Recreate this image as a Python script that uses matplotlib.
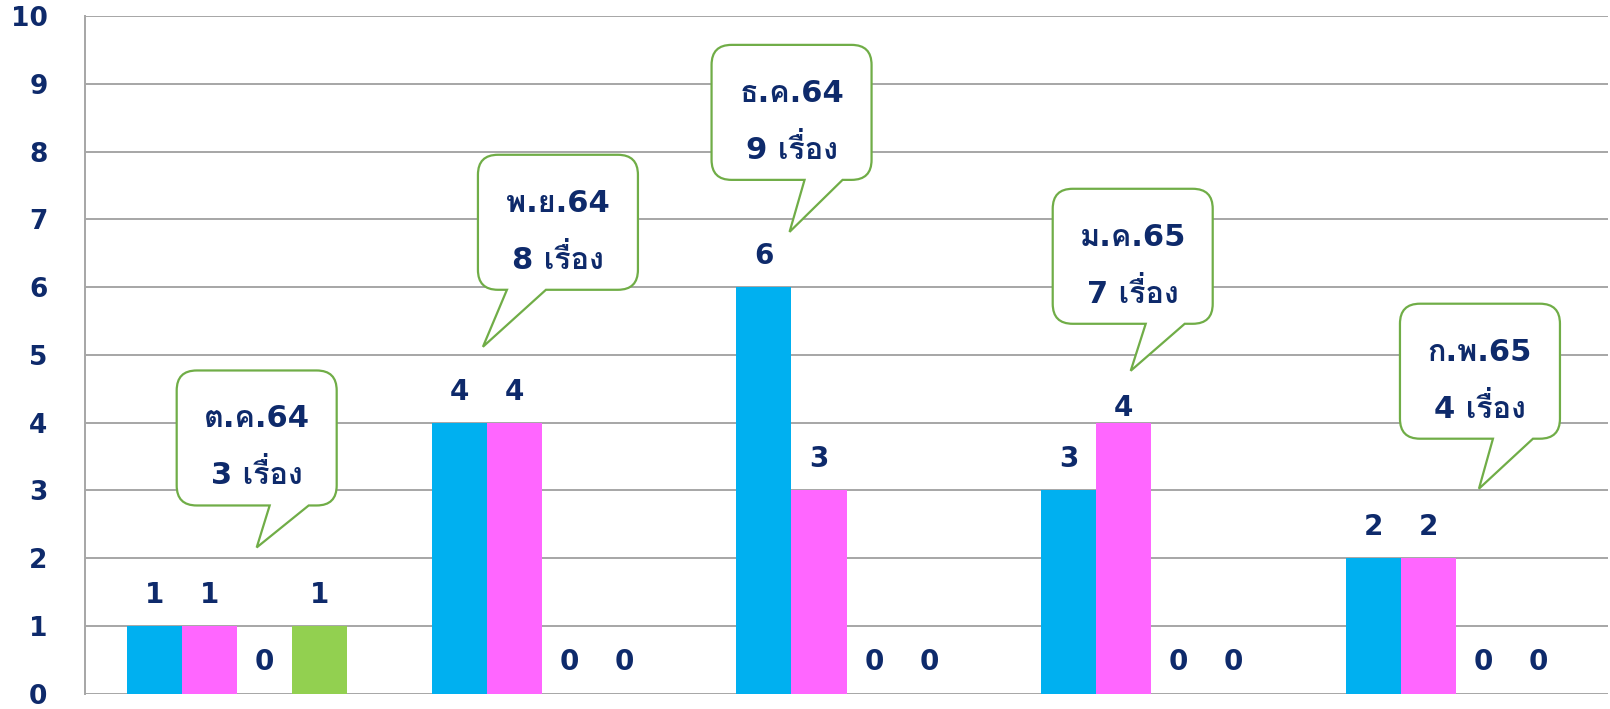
import matplotlib
matplotlib.use("Agg")
import matplotlib.pyplot as plt
import numpy as np
from matplotlib.path import Path
from matplotlib.patches import PathPatch
from matplotlib.transforms import Affine2D, ScaledTranslation

plt.rcParams['font.family'] = ['DejaVu Sans', 'Loma']
plt.rcParams['font.weight'] = 'bold'

months = ['ต.ค.64', 'พ.ย.64', 'ธ.ค.64', 'ม.ค.65', 'ก.พ.65']
s1 = [1, 4, 6, 3, 2]
s2 = [1, 4, 3, 4, 2]
s3 = [0, 0, 0, 0, 0]
s4 = [1, 0, 0, 0, 0]
series = [s1, s2, s3, s4]
totals = [sum(v) for v in zip(*series)]

colors = ['#00B0F0', '#FF66FF', '#FFC000', '#92D050']
navy = '#0E2A6B'
green = '#70AD47'

# callout box: top-left in data coords, tail base (px from left) and tip (px)
callouts = [(-0.199, 4.77, 93, 132, 80, 42),
            (0.790, 7.955, 29, 68, 5, 57),
            (1.557, 9.578, 93, 131, 78, 52),
            (2.677, 7.453, 93, 132, 78, 47),
            (3.817, 5.756, 93, 133, 79, 50)]
# label lifts in px above the bar top (baseline), special cases
lift = {(3, 1): 7}

DPI = 100
fig = plt.figure(figsize=(16.1, 7.09), dpi=DPI)
ax = fig.add_axes([85 / 1610, 15.5 / 709, 1523 / 1610, 677.2 / 709])

x = np.arange(len(months))
w = 0.1806
for k, vals in enumerate(series):
    pos = x + (k - 1.5) * w
    ax.bar(pos, vals, width=w, color=colors[k], zorder=2)
    for i, (p, v) in enumerate(zip(pos, vals)):
        up = lift.get((i, k), 23) * 72 / DPI
        ax.annotate(str(v), (p, v), xytext=(0, up), textcoords='offset points',
                    ha='center', va='baseline', fontsize=20, color=navy, zorder=4)

ax.set_xlim(-0.5, 4.5)
ax.set_ylim(0, 10)
ax.set_yticks(range(0, 11))
ax.set_xticks([])
ax.tick_params(axis='y', length=0, pad=27, labelsize=19, labelcolor=navy)
ax.grid(axis='y', color='#A6A6A6', linewidth=1.4, zorder=0)
for s in ['top', 'right', 'bottom']:
    ax.spines[s].set_visible(False)
ax.spines['left'].set_color('#A6A6A6')
ax.spines['left'].set_linewidth(1.4)


def callout_path(bw, bh, r, b0, b1, tx, ty):
    verts = [(r, 0), (bw - r, 0), (bw, 0), (bw, -r), (bw, -bh + r), (bw, -bh), (bw - r, -bh),
             (b1, -bh), (tx, -bh - ty), (b0, -bh), (r, -bh), (0, -bh), (0, -bh + r),
             (0, -r), (0, 0), (r, 0), (r, 0)]
    codes = [Path.MOVETO, Path.LINETO, Path.CURVE3, Path.CURVE3, Path.LINETO, Path.CURVE3, Path.CURVE3,
             Path.LINETO, Path.LINETO, Path.LINETO, Path.LINETO, Path.CURVE3, Path.CURVE3,
             Path.LINETO, Path.CURVE3, Path.CURVE3, Path.CLOSEPOLY]
    return Path(verts, codes)


for i, (cx, cy, b0, b1, tx, ty) in enumerate(callouts):
    tr = Affine2D().scale(1 / DPI) + fig.dpi_scale_trans + ScaledTranslation(cx, cy, ax.transData)
    patch = PathPatch(callout_path(160, 135, 20, b0, b1, tx, ty), transform=tr,
                      facecolor='white', edgecolor=green, linewidth=1.6, zorder=5, clip_on=False)
    ax.add_patch(patch)
    ax.text(80, -57, months[i], transform=tr, ha='center', va='baseline',
            fontsize=22, color=navy, zorder=6)
    ax.text(80, -114, f'{totals[i]} เรื่อง', transform=tr, ha='center', va='baseline',
            fontsize=22, color=navy, zorder=6)

fig.savefig("out.png", dpi=DPI)
